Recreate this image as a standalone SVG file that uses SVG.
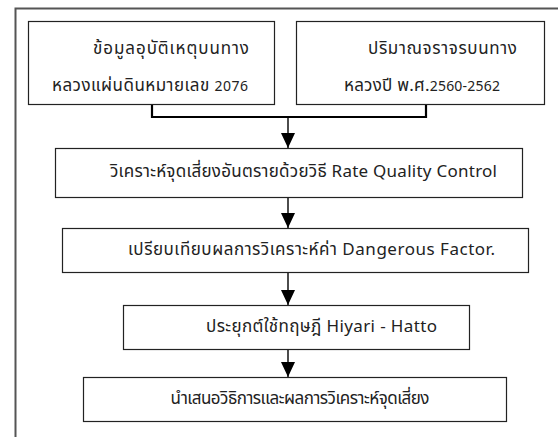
<svg xmlns="http://www.w3.org/2000/svg" width="558" height="437" viewBox="0 0 558 437">
<style>
.box{fill:#fff;stroke:#222;stroke-width:1.2}
.t{font-family:"Noto Sans Thai","Noto Sans","DejaVu Sans",sans-serif;font-size:17px;fill:#222;dominant-baseline:central}
.s{font-size:14px}
.c{fill:none;stroke:#000;stroke-width:1.4}
.b{fill:none;stroke:#000;stroke-width:2.2}
</style>
<defs>
<marker id="ah" markerWidth="15" markerHeight="14" refX="15" refY="7" orient="auto" markerUnits="userSpaceOnUse" viewBox="0 0 15 14">
<path d="M0,0 L15,7 L0,14 Z" fill="#000"/>
</marker>
</defs>
<rect width="558" height="437" fill="#fff"/>
<path d="M15.5,437 V8.5 H558" fill="none" stroke="#555" stroke-width="2"/>
<g id="n1"><rect class="box" x="28.5" y="21.5" width="246" height="83"/>
<text class="t" x="93" y="49" textLength="156">ข้อมูลอุบัติเหตุบนทาง</text>
<text class="t" x="52" y="86" textLength="196">หลวงแผ่นดินหมายเลข <tspan class="s">2076</tspan></text></g>
<g id="n2"><rect class="box" x="296.5" y="21.5" width="248" height="83"/>
<text class="t" x="368" y="49" textLength="149">ปริมาณจราจรบนทาง</text>
<text class="t" x="344" y="86" textLength="156">หลวงปี พ.ศ.<tspan class="s">2560-2562</tspan></text></g>
<g id="n3"><rect class="box" x="55.5" y="148.5" width="467" height="49"/>
<text class="t" x="110" y="172" textLength="387">วิเคราะห์จุดเสี่ยงอันตรายด้วยวิธี Rate Quality Control</text></g>
<g id="n4"><rect class="box" x="62.5" y="228.5" width="466" height="44"/>
<text class="t" x="128" y="250" textLength="367">เปรียบเทียบผลการวิเคราะห์ค่า Dangerous Factor.</text></g>
<g id="n5"><rect class="box" x="123.5" y="305.5" width="346" height="44"/>
<text class="t" x="206" y="327" textLength="231">ประยุกต์ใช้ทฤษฎี Hiyari - Hatto</text></g>
<g id="n6"><rect class="box" x="83.5" y="377.5" width="423" height="44"/>
<text class="t" x="170" y="399" textLength="259">นำเสนอวิธิการและผลการวิเคราะห์จุดเสี่ยง</text></g>
<g id="connectors">
<path class="b" d="M152,105 V117 H426 V105"/>
<path class="c" d="M288,117 V148" marker-end="url(#ah)"/>
<path class="c" d="M288,198 V228" marker-end="url(#ah)"/>
<path class="c" d="M288,273 V305" marker-end="url(#ah)"/>
<path class="c" d="M288,350 V377" marker-end="url(#ah)"/>
</g>
</svg>
